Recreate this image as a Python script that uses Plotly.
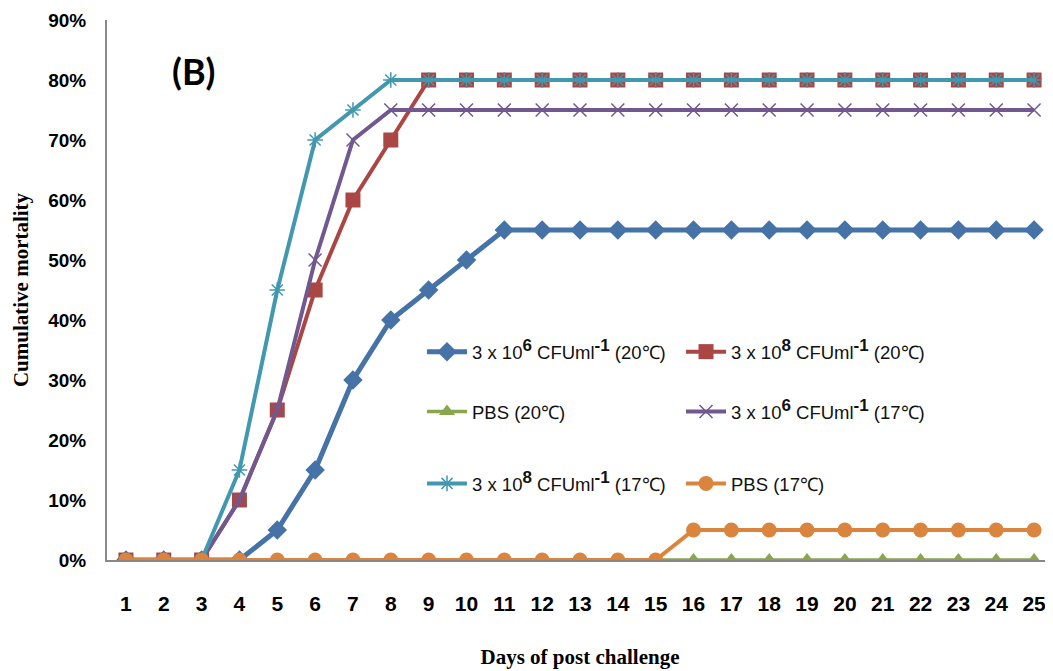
import plotly.graph_objects as go

days = list(range(1, 26))
s_3e6_20 = [0, 0, 0, 0, 5, 15, 30, 40, 45, 50] + [55] * 15
s_3e8_20 = [0, 0, 0, 10, 25, 45, 60, 70] + [80] * 17
s_pbs_20 = [0] * 25
s_3e6_17 = [0, 0, 0, 10, 25, 50, 70] + [75] * 18
s_3e8_17 = [0, 0, 0, 15, 45, 70, 75] + [80] * 18
s_pbs_17 = [0] * 15 + [5] * 10

SUP = "<sup><span style='font-size:17px'><b>%s</b></span></sup>"
names = [
    "3 x 10" + SUP % "6" + " CFUml" + SUP % "-1" + " (20℃)",
    "3 x 10" + SUP % "8" + " CFUml" + SUP % "-1" + " (20℃)",
    "PBS (20℃)",
    "3 x 10" + SUP % "6" + " CFUml" + SUP % "-1" + " (17℃)",
    "3 x 10" + SUP % "8" + " CFUml" + SUP % "-1" + " (17℃)",
    "PBS (17℃)",
]
series = [s_3e6_20, s_3e8_20, s_pbs_20, s_3e6_17, s_3e8_17, s_pbs_17]
colors = ["#4572A7", "#AA4643", "#89A54E", "#71588F", "#4198AF", "#DB843D"]
symbols = ["diamond", "square", "triangle-up", "x-thin-open", "asterisk-open", "circle"]
sizes = [15, 15, 14, 13, 13, 15]
widths = [5, 4, 3.5, 4, 4, 4]
legends = ["legend", "legend", "legend2", "legend2", "legend3", "legend3"]

fig = go.Figure()
for name, ys, c, sym, sz, w, lg in zip(names, series, colors, symbols, sizes, widths, legends):
    mk = dict(symbol=sym, size=sz, color=c)
    if "open" in sym:
        mk["line"] = dict(color=c, width=1.5)
    fig.add_trace(go.Scatter(
        x=days, y=[v / 100 for v in ys], mode="lines+markers", name=name,
        line=dict(color=c, width=w), marker=mk, legend=lg,
    ))

leg_font = dict(family="Liberation Sans, Arial", size=18.5, color="#111")
common = dict(orientation="h", entrywidth=204, font=leg_font, bgcolor="rgba(0,0,0,0)",
              xanchor="left", yanchor="middle", x=0.333, itemwidth=40)

# page body has an 8px margin, so the figure is shifted 8px right/down
fig.update_layout(
    width=1045, height=663,
    margin=dict(l=99, r=0, t=12, b=111, autoexpand=False),
    paper_bgcolor="white", plot_bgcolor="white",
    showlegend=True,
    legend=dict(y=0.385, **common),
    legend2=dict(y=0.274, **common),
    legend3=dict(y=0.141, **common),
    xaxis=dict(
        range=[0.5, 25.5], tickmode="array", tickvals=days, ticks="", automargin=False,
        showgrid=False, zeroline=False, showline=True, linecolor="#888", linewidth=2,
        tickfont=dict(family="Liberation Sans, Arial", size=21, color="black", weight="bold"),
        ticklabelstandoff=24,
        title=dict(text="<b>Days of post challenge</b>", standoff=35,
                   font=dict(family="Liberation Serif, Times New Roman, serif", size=21, color="black")),
    ),
    yaxis=dict(
        range=[0, 0.9], tickvals=[i / 10 for i in range(10)], tickformat=".0%", ticks="", automargin=False,
        showgrid=False, zeroline=False, showline=True, linecolor="#888", linewidth=2,
        tickfont=dict(family="Liberation Sans, Arial", size=19, color="black", weight="bold"),
        ticklabelstandoff=15,
        title=dict(text="<b>Cumulative mortality</b>", standoff=14,
                   font=dict(family="Liberation Serif, Times New Roman, serif", size=21, color="black")),
    ),
    annotations=[dict(text="<b>(B)</b>", x=2.78, y=0.815, xref="x", yref="y", showarrow=False,
                      font=dict(family="Lato, Open Sans, Arial", size=36, color="black"))],
)

fig.write_html("out.html")
